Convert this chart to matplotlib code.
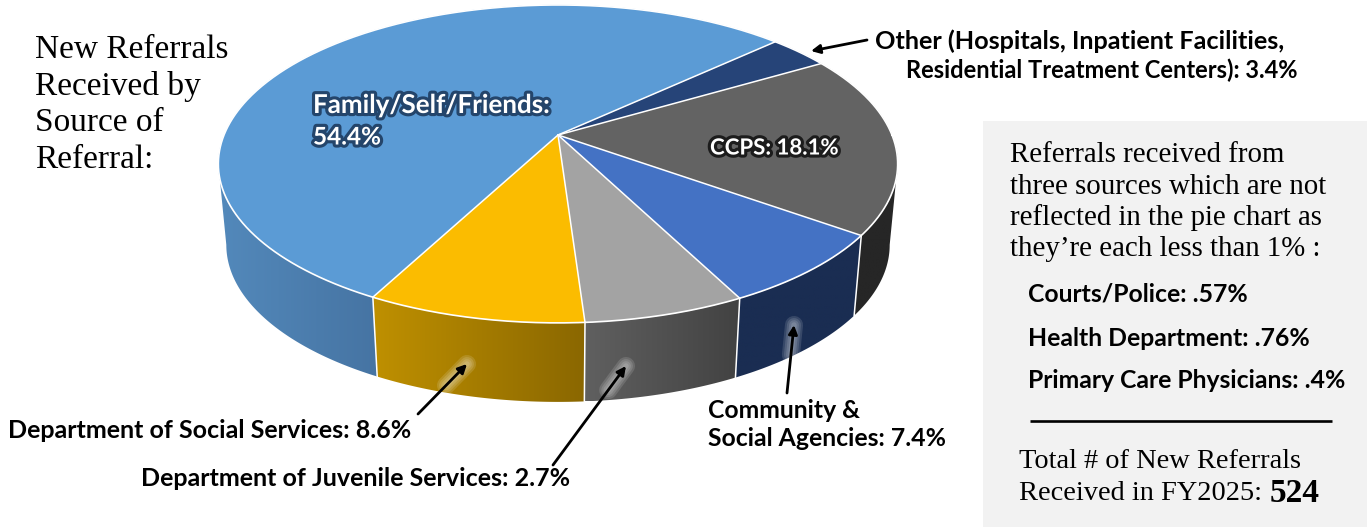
import numpy as np
import matplotlib
matplotlib.use("Agg")
import matplotlib.pyplot as plt
from matplotlib.colors import LinearSegmentedColormap
from matplotlib.patches import Polygon, Rectangle
import matplotlib.patheffects as pe

# Referral shares in percent, clockwise from the top of the pie
sources = ["Other", "CCPS", "Community & Social Agencies",
           "Department of Juvenile Services", "Not itemised",
           "Department of Social Services", "Family/Self/Friends"]
shares = [3.4, 18.1, 7.4, 2.7, 3.67, 8.6, 54.4]
top_colors = ["#264478", "#636363", "#4472C4", "#A3A3A3", "#A3A3A3", "#FBBC00", "#5B9BD5"]
wall_left = ["#264478", "#262626", "#1A2D52", "#606060", "#606060", "#BF9000", "#5389BB"]
wall_right = ["#264478", "#262626", "#1A2D52", "#424242", "#424242", "#8A6700", "#4674A3"]

title_lines = ["New Referrals", "Received by", "Source of", "Referral:"]
note_lines = ["Referrals received from", "three sources which are not",
              "reflected in the pie chart as", "they\u2019re each less than 1% :"]
small_sources = ["Courts/Police: .57%", "Health Department: .76%", "Primary Care Physicians: .4%"]
total_new_referrals = 524

SERIF = "Liberation Serif"
SANS = "Lato"
START_ANGLE = 43.0
CX, CY = 558.0, 135.0
PERSP, AX, BY = 0.182, 334.0, 153.7
# Angle at which the projected rim reaches its widest point on the right
SILHOUETTE = -np.degrees(np.arcsin(PERSP))


def rim(theta):
    """Perspective projection of the unit circle onto the pie's top face."""
    t = np.radians(theta)
    w = 1 + PERSP * np.sin(t)
    return CX + AX * np.cos(t) / w, CY - BY * np.sin(t) / w


def base(theta):
    """Matching point on the lower edge of the pie's side wall."""
    x, y = rim(theta)
    return CX + (x - CX) * 332 / 340, 245 + (y - 164) * 157 / 159


fig = plt.figure(figsize=(13.67, 5.27), dpi=100, facecolor="white")
ax = fig.add_axes([0, 0, 1, 1])

ax.add_patch(Rectangle((983, 121), 384, 406, facecolor="#F2F2F2", edgecolor="none", zorder=1))

# Slice angles, clockwise from the starting angle
edges = START_ANGLE - np.concatenate([[0], np.cumsum(shares)]) / np.sum(shares) * 360

# Adjacent slices with one colour form one run with no divider between them
runs = []
for i, face in enumerate(top_colors):
    if runs and runs[-1]["face"] == face:
        runs[-1]["end"] = edges[i + 1]
    else:
        runs.append(dict(start=edges[i], end=edges[i + 1], face=face,
                         left=wall_left[i], right=wall_right[i]))

# Side walls with a horizontal shade, limited to the part facing the viewer
for r in runs:
    a0 = min(r["start"], SILHOUETTE)
    a1 = max(r["end"], -180 - SILHOUETTE)
    if a0 - a1 < 1:
        continue
    th = np.linspace(a0, a1, 120)
    tx, ty = rim(th)
    bx, by = base(th)
    px = np.concatenate([tx, bx[::-1]])
    py = np.concatenate([ty, by[::-1]])
    poly = Polygon(np.column_stack([px, py]), closed=True, transform=ax.transData,
                   facecolor="none", edgecolor="none")
    ax.add_patch(poly)
    cmap = LinearSegmentedColormap.from_list("wall", [r["left"], r["right"]])
    im = ax.imshow(np.linspace(0, 1, 256)[None, :], cmap=cmap, aspect="auto",
                   extent=(px.min(), px.max(), py.max(), py.min()), zorder=1.5,
                   interpolation="bilinear")
    im.set_clip_path(poly)

# Top face
for r in runs:
    th = np.linspace(r["start"], r["end"], 240)
    tx, ty = rim(th)
    ax.add_patch(Polygon(np.column_stack([np.r_[CX, tx], np.r_[CY, ty]]), closed=True,
                         facecolor=r["face"], edgecolor=r["face"], lw=0.3, zorder=2))

# White dividers on the top face, the rim and down the visible wall corners
th = np.linspace(0, 360, 720)
ax.plot(*rim(th), color="white", lw=1.2, zorder=3)
for r in runs:
    x, y = rim(r["start"])
    ax.plot([CX, x], [CY, y], color="white", lw=1.1, zorder=3, solid_capstyle="round")
    if np.sin(np.radians(r["start"])) < -0.3:
        bx, by = base(r["start"])
        ax.plot([x, bx], [y, by], color="white", lw=1.1, zorder=3)


def arrow(tail, head, glow=True):
    hx, hy = head
    tx, ty = tail
    if glow:
        frac = 30 / np.hypot(tx - hx, ty - hy)
        gx, gy = hx + (tx - hx) * frac, hy + (ty - hy) * frac
        for width in (13, 10, 7, 4):
            ax.plot([hx, gx], [hy, gy], color="white", alpha=0.13, lw=width,
                    solid_capstyle="round", zorder=4)
    ax.annotate("", xy=head, xytext=tail, zorder=5,
                arrowprops=dict(arrowstyle="-|>", color="black", lw=2, mutation_scale=13,
                                shrinkA=0, shrinkB=0))


arrow((418, 414), (467, 364))
arrow((553, 465), (626, 366))
arrow((787, 393), (794, 325))
arrow((867, 40), (811, 51), glow=False)

# Title in the upper left
for line, y in zip(title_lines, [50, 87, 123, 160]):
    ax.text(35, y, line, family=SERIF, fontsize=24, va="center", color="black", zorder=6)

# Labels on and around the pie
bold = dict(family=SANS, fontweight="bold", fontsize=18, va="center", color="black", zorder=6)
ax.text(875, 41, "Other (Hospitals, Inpatient Facilities,", **dict(bold, fontsize=18.2))
ax.text(1297, 70, "Residential Treatment Centers): 3.4%", ha="right", **dict(bold, fontsize=17))
ax.text(8, 430, "Department of Social Services: 8.6%", **bold)
ax.text(141, 478, "Department of Juvenile Services: 2.7%", **bold)
ax.text(708, 410, "Community &", **dict(bold, fontsize=17.8))
ax.text(708, 438, "Social Agencies: 7.4%", **dict(bold, fontsize=17.8))

inner = dict(bold, color="white", fontsize=18.7)
navy_glow = [pe.withStroke(linewidth=4.5, foreground="#24456B")]
dark_glow = [pe.withStroke(linewidth=4.5, foreground="#1C1C1C")]
ax.text(313, 105, "Family/Self/Friends:", path_effects=navy_glow, **inner)
ax.text(313, 137, "54.4%", path_effects=navy_glow, **dict(inner, fontsize=17.5))
ax.text(710, 148, "CCPS: 18.1%", path_effects=dark_glow, **dict(inner, fontsize=16))

# Side panel
body = dict(family=SERIF, fontsize=20.8, va="center", color="black", zorder=6)
for line, y in zip(note_lines, [155, 187, 218, 249]):
    ax.text(1010, y, line, **body)
for line, y in zip(small_sources, [294, 338, 381]):
    ax.text(1028, y, line, **dict(bold, fontsize=17.8))
ax.plot([1030, 1332], [421, 421], color="black", lw=1.9, solid_capstyle="butt", zorder=6)
ax.text(1019, 461, "Total # of New Referrals", **dict(body, fontsize=20.4))
ax.text(1019, 494, "Received in FY2025:", **dict(body, fontsize=20.4))
ax.text(1270, 493, str(total_new_referrals), family=SERIF, fontweight="bold", fontsize=24,
        va="center", color="black", zorder=6)

ax.set_xlim(0, 1367)
ax.set_ylim(527, 0)
ax.axis("off")
fig.savefig("out.png", dpi=100, facecolor="white")
